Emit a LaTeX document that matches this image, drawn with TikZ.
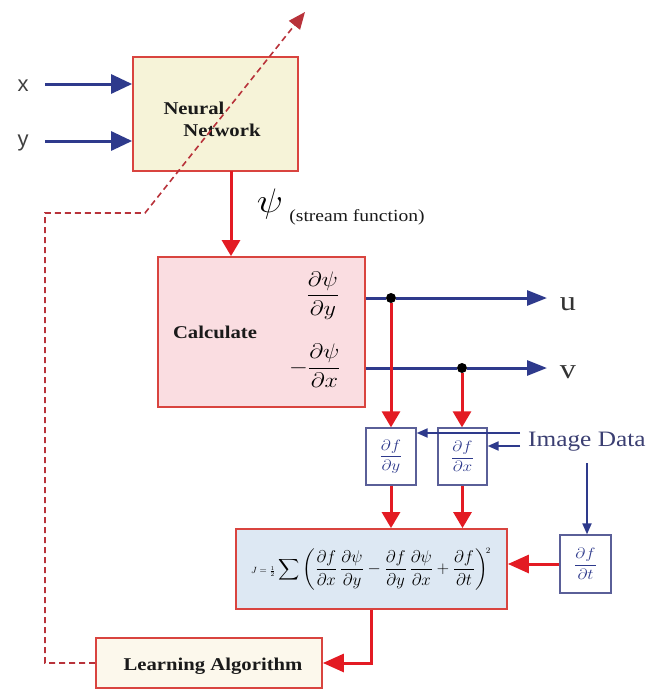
\RequirePackage{fix-cm}
\documentclass[tikz,border=0pt]{standalone}
\usepackage{amsmath}
\usepackage{graphicx}
\usepackage{fontspec}
\setmainfont{Liberation Serif}[FakeStretch=1.15]
\newfontfamily\labelsans{Liberation Sans}
\usetikzlibrary{arrows.meta}

\definecolor{arrowred}{HTML}{E31B23}
\definecolor{boxred}{HTML}{D9443F}
\definecolor{fbred}{HTML}{B8323A}
\definecolor{navy}{HTML}{2E3A8C}
\definecolor{slate}{HTML}{5A5F98}
\definecolor{nnfill}{HTML}{F6F3D8}
\definecolor{calcfill}{HTML}{FADDE1}
\definecolor{jfill}{HTML}{DDE8F3}
\definecolor{learnfill}{HTML}{FCF8EC}
\definecolor{inktext}{HTML}{1A1A1A}
\definecolor{datatext}{HTML}{3B3F72}

% widen math a little to sit with the stretched text
\newcommand{\widemath}[1]{\scalebox{1.15}[1]{#1}}

\tikzset{
  block/.style={draw=boxred, line width=1.8pt, inner sep=0pt},
  dbox/.style={draw=slate, line width=1.3pt, fill=white, minimum width=50pt,
    minimum height=57pt, inner sep=0pt, text=navy,
    font=\fontsize{15}{17}\selectfont},
  redflow/.style={draw=arrowred, line width=3pt, -{Triangle[length=16pt,width=18pt]}},
  inflow/.style={draw=navy, line width=3pt, -{Triangle[length=21pt,width=19pt]}},
  outflow/.style={draw=navy, line width=3pt, -{Triangle[length=20pt,width=15pt]}},
  datalink/.style={draw=navy, line width=2pt, -{Triangle[length=11pt,width=9pt]}},
  feedback/.style={draw=fbred, line width=1.6pt, dash pattern=on 6pt off 4pt,
    -{Triangle[length=17pt,width=14pt]}},
  junction/.style={circle, fill=black, minimum size=10pt, inner sep=0pt},
  boldlbl/.style={font=\fontsize{18}{20}\selectfont\bfseries, text=inktext, inner sep=0pt},
}

\begin{document}
\begin{tikzpicture}[x=1pt, y=-1pt]
\useasboundingbox (0,0) rectangle (650,689);

% ---- blocks ----
\node[block, fill=nnfill, minimum width=165pt, minimum height=114pt] (nn) at (215.5,114) {};
\node[boldlbl] (nnA) at (194,108) {Neural};
\node[boldlbl] (nnB) at (222,130) {Network};

\node[block, fill=calcfill, minimum width=207pt, minimum height=150pt] (calc) at (261.5,332) {};
\node[boldlbl] (calcT) at (215,332) {Calculate};
\node[inner sep=0pt, font=\fontsize{21}{24}\selectfont] (dpy) at (323,296)
  {\widemath{$\dfrac{\partial\psi}{\partial y}$}};
\node[inner sep=0pt, font=\fontsize{21}{24}\selectfont] (dpx) at (315,366)
  {\widemath{$-\dfrac{\partial\psi}{\partial x}$}};

\node[dbox] (dfy) at (391,456.5) {\widemath{$\dfrac{\partial f}{\partial y}$}};
\node[dbox, minimum width=49pt] (dfx) at (462.5,456.5) {\widemath{$\dfrac{\partial f}{\partial x}$}};
\node[dbox, minimum width=51pt, minimum height=58pt] (dft) at (585.5,564) {\widemath{$\dfrac{\partial f}{\partial t}$}};

\node[block, fill=jfill, minimum width=271pt, minimum height=80pt] (jbox) at (371.5,569) {};
\node[inner sep=0pt] (jexpr) at (371,569)
  {{\fontsize{9}{10}\selectfont$J=\frac{1}{2}$}\kern3pt{\fontsize{17}{20}\selectfont$\displaystyle\mathop{\scalebox{0.85}{$\displaystyle\sum$}}\left(\frac{\partial f}{\partial x}\,\frac{\partial\psi}{\partial y}-\frac{\partial f}{\partial y}\,\frac{\partial\psi}{\partial x}+\frac{\partial f}{\partial t}\right)^{\!\scriptscriptstyle 2}$}};

\node[block, fill=learnfill, minimum width=226pt, minimum height=50pt] (learn) at (209,663) {};
\node[boldlbl] (learnT) at (213,666) {Learning Algorithm};

% ---- free labels ----
\node[font=\labelsans\fontsize{22}{24}\selectfont, text=black!75] (xlab) at (23,86) {x};
\node[font=\labelsans\fontsize{22}{24}\selectfont, text=black!75] (ylab) at (23,143) {y};
\node[inner sep=0pt, font=\fontsize{34}{36}\selectfont] (psi) at (270,204) {\widemath{$\psi$}};
\node[inner sep=0pt, font=\fontsize{17}{19}\selectfont, text=inktext] (sf) at (357,217) {(stream function)};
\node[inner sep=0pt, font=\fontsize{28}{30}\selectfont, text=black!80] (u) at (568,304) {u};
\node[inner sep=0pt, font=\fontsize{28}{30}\selectfont, text=black!80] (v) at (568,372) {v};
\node[inner sep=0pt, anchor=west, font=\fontsize{22}{24}\selectfont, text=datatext] (img) at (528,442) {Image Data};

% ---- anchor points for free ends ----
\coordinate (xs) at (45,84);
\coordinate (ys) at (45,141);
\coordinate (psitop) at (231,171);
\coordinate (uend) at (547,298);
\coordinate (vend) at (547,368);
\coordinate (ia) at (520,433);
\coordinate (ib) at (520,446);
\coordinate (ic) at (587,463);
\coordinate (fbcorner) at (45,213);
\coordinate (fbbend) at (145,213);
\coordinate (fbtip) at (305,12);

\node[junction] (j1) at (391,298) {};
\node[junction] (j2) at (462,368) {};

% ---- inputs ----
\draw[inflow] (xs) -- (xs -| nn.west);
\draw[inflow] (ys) -- (ys -| nn.west);

% ---- stream function ----
\draw[redflow] (psitop) -- (psitop |- calc.north);

% ---- velocity outputs ----
\draw[navy, line width=3pt] (calc.east |- j1) -- (j1);
\draw[outflow] (j1) -- (uend);
\draw[navy, line width=3pt] (calc.east |- j2) -- (j2);
\draw[outflow] (j2) -- (vend);

\draw[redflow] (j1) -- (j1 |- dfy.north);
\draw[redflow] (j2) -- (j2 |- dfx.north);

% ---- image data ----
\draw[datalink] (ia) -- (ia -| dfy.east);
\draw[datalink] (ib) -- (ib -| dfx.east);
\draw[datalink] (ic) -- (ic |- dft.north);

% ---- into cost ----
\draw[redflow] (dfy.south) -- (dfy.south |- jbox.north);
\draw[redflow] (dfx.south) -- (dfx.south |- jbox.north);
\draw[redflow, -{Triangle[length=21pt,width=18pt]}] (dft.west) -- (dft.west -| jbox.east);

% ---- cost to learning ----
\draw[redflow, -{Triangle[length=21pt,width=18pt]}] (jbox.south) |- (learn.east);

% ---- weight update feedback ----
\draw[feedback] (learn.west) -| (fbcorner) -- (fbbend) -- (fbtip);
\end{tikzpicture}
\end{document}
